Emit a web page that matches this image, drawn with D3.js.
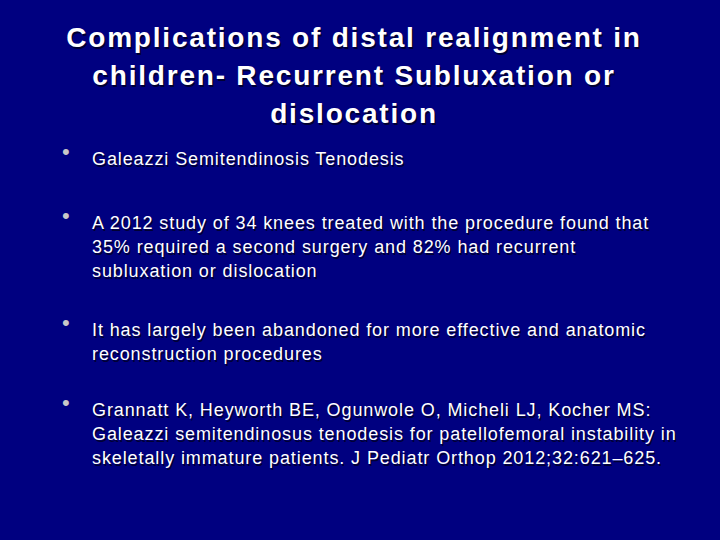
<!DOCTYPE html>
<html><head><meta charset="utf-8">
<script src="https://cdn.jsdelivr.net/npm/d3@7"></script>
<style>body{margin:0;background:#000080}</style>
</head><body><div id="svg"></div>
<script>
var titleLines = ["Complications of distal realignment in", "children- Recurrent Subluxation or", "dislocation"];
var bullets = [
  ["Galeazzi Semitendinosis Tenodesis"],
  ["A 2012 study of 34 knees treated with the procedure found that", "35% required a second surgery and 82% had recurrent", "subluxation or dislocation"],
  ["It has largely been abandoned for more effective and anatomic", "reconstruction procedures"],
  ["Grannatt K, Heyworth BE, Ogunwole O, Micheli LJ, Kocher MS:", "Galeazzi semitendinosus tenodesis for patellofemoral instability in", "skeletally immature patients. J Pediatr Orthop 2012;32:621\u2013625."]
];
var bulletTops = [165, 229, 336, 416];

var width = 720, height = 540;
var svg = d3.select("#svg").append("svg").attr("width", width).attr("height", height);
svg.append("rect").attr("width", width).attr("height", height).attr("fill", "#000080");

var font = "'Liberation Sans', Arial, sans-serif";

function shadowText(sel) {
  // dark drop shadow then white text
  ["#000033", "#ffffff"].forEach(function(c, i) {
    sel(i ? 0 : 1.5, c);
  });
}

var title = svg.append("g");
titleLines.forEach(function(t, i) {
  shadowText(function(off, c) {
    title.append("text").attr("x", 354 + off).attr("y", 47 + i * 38 + off)
      .attr("text-anchor", "middle").attr("font-family", font)
      .attr("font-size", 28).attr("font-weight", "bold")
      .attr("letter-spacing", 1.8).attr("fill", c).text(t);
  });
});

var body = svg.append("g");
bullets.forEach(function(lines, b) {
  body.append("text").attr("x", 62).attr("y", bulletTops[b] - 6)
    .attr("font-family", font).attr("font-size", 22).attr("fill", "#c8c8c8").text("\u2022");
  lines.forEach(function(t, i) {
    shadowText(function(off, c) {
      body.append("text").attr("x", 92 + off).attr("y", bulletTops[b] + i * 24 + off)
        .attr("font-family", font).attr("font-size", 18)
        .attr("letter-spacing", 0.9).attr("fill", c).text(t);
    });
  });
});
</script>
</body></html>
